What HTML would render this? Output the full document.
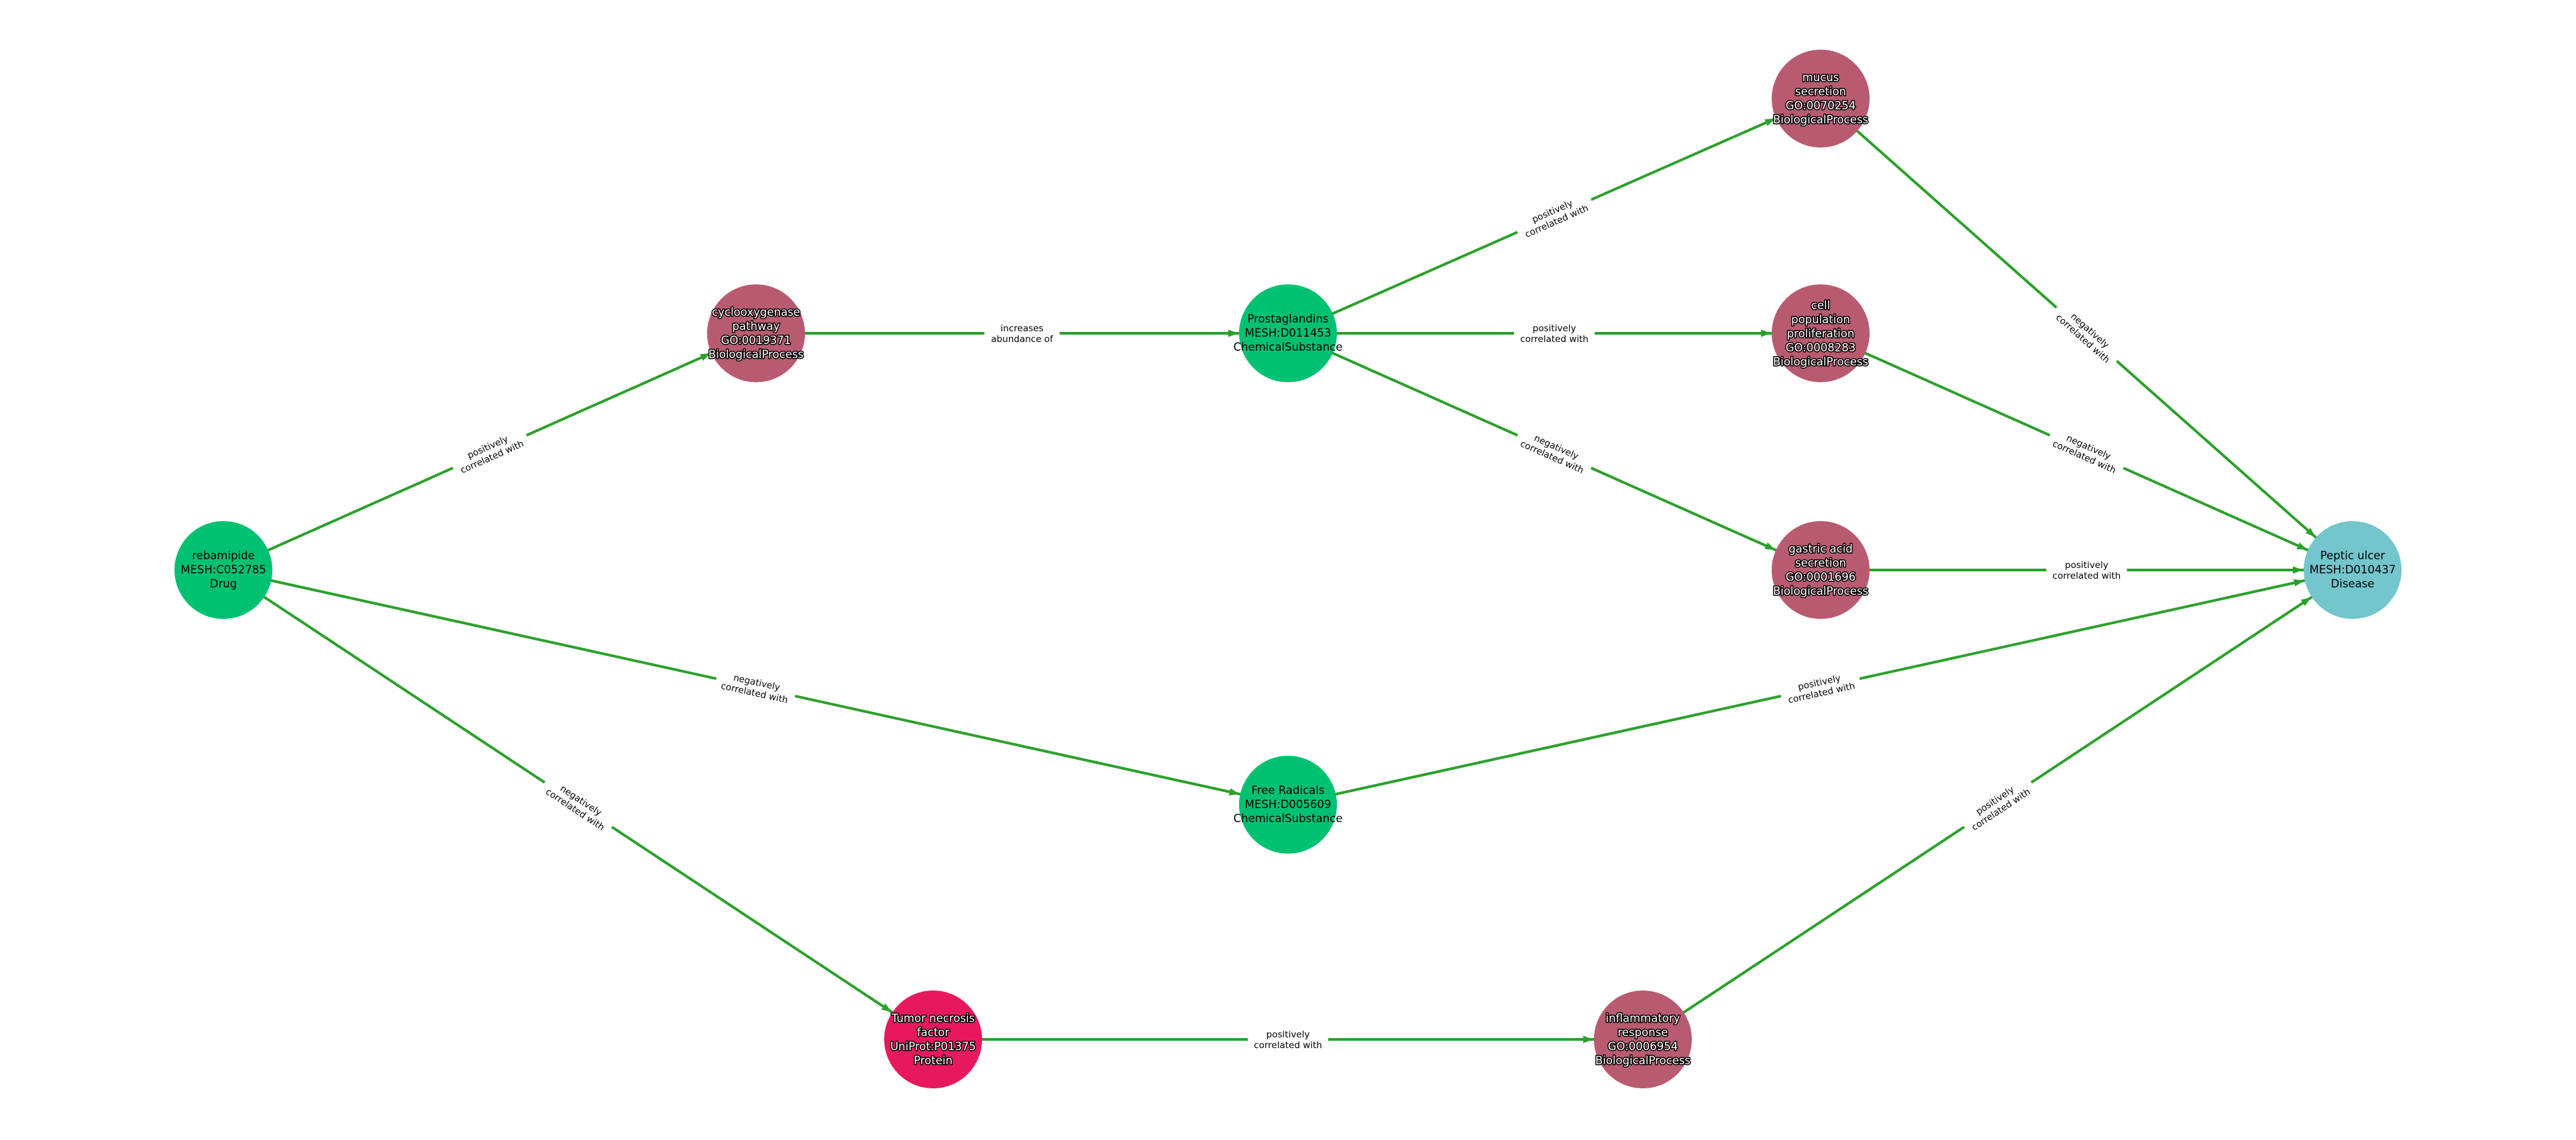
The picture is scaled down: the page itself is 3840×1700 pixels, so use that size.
<!DOCTYPE html>
<html><head><meta charset="utf-8"><style>
html,body{margin:0;padding:0;background:#fff;}
svg{display:block;}
.e{stroke:#2ca02c;stroke-width:4;fill:none;}
.lb{font-family:"DejaVu Sans","Liberation Sans",sans-serif;font-size:13.5px;fill:#000;text-anchor:middle;}
.nt{font-family:"DejaVu Sans","Liberation Sans",sans-serif;font-size:16.5px;text-anchor:middle;}
.w{fill:#fff;stroke:#000;stroke-width:3;paint-order:stroke;stroke-linejoin:round;}
.k{fill:#000;}
</style></head><body>
<svg width="3840" height="1700" viewBox="0 0 3840 1700" xmlns="http://www.w3.org/2000/svg">
<defs>
<marker id="a" markerUnits="userSpaceOnUse" markerWidth="30" markerHeight="30" refX="74" refY="0" orient="auto" overflow="visible" viewBox="-20 -10 30 20">
<path d="M-15,-5.5 L0,0 L-15,5.5 z" fill="#2ca02c"/>
</marker>
</defs>
<g class="e" marker-end="url(#a)">
<line x1="333" y1="850" x2="1127" y2="497"/>
<line x1="1127" y1="497" x2="1920" y2="497"/>
<line x1="1920" y1="497" x2="2714" y2="147"/>
<line x1="1920" y1="497" x2="2714" y2="497"/>
<line x1="1920" y1="497" x2="2714" y2="850"/>
<line x1="2714" y1="147" x2="3507" y2="850"/>
<line x1="2714" y1="497" x2="3507" y2="850"/>
<line x1="2714" y1="850" x2="3507" y2="850"/>
<line x1="333" y1="850" x2="1920" y2="1200"/>
<line x1="1920" y1="1200" x2="3507" y2="850"/>
<line x1="333" y1="850" x2="1391" y2="1550"/>
<line x1="1391" y1="1550" x2="2449" y2="1550"/>
<line x1="2449" y1="1550" x2="3507" y2="850"/>
</g>
<g>
<g transform="translate(730,673.5) rotate(-24)"><rect x="-60" y="-18" width="120" height="36" fill="#fff"/><text class="lb" y="-3">positively</text><text class="lb" y="13">correlated with</text></g>
<g transform="translate(1523.5,497)"><rect x="-56" y="-18" width="112" height="36" fill="#fff"/><text class="lb" y="-3">increases</text><text class="lb" y="13">abundance of</text></g>
<g transform="translate(2317,322) rotate(-23.8)"><rect x="-60" y="-18" width="120" height="36" fill="#fff"/><text class="lb" y="-3">positively</text><text class="lb" y="13">correlated with</text></g>
<g transform="translate(2317,497)"><rect x="-60" y="-18" width="120" height="36" fill="#fff"/><text class="lb" y="-3">positively</text><text class="lb" y="13">correlated with</text></g>
<g transform="translate(2317,673.5) rotate(24)"><rect x="-60" y="-18" width="120" height="36" fill="#fff"/><text class="lb" y="-3">negatively</text><text class="lb" y="13">correlated with</text></g>
<g transform="translate(3110.5,498.5) rotate(41.6)"><rect x="-60" y="-18" width="120" height="36" fill="#fff"/><text class="lb" y="-3">negatively</text><text class="lb" y="13">correlated with</text></g>
<g transform="translate(3110.5,673.5) rotate(24)"><rect x="-60" y="-18" width="120" height="36" fill="#fff"/><text class="lb" y="-3">negatively</text><text class="lb" y="13">correlated with</text></g>
<g transform="translate(3110.5,850)"><rect x="-60" y="-18" width="120" height="36" fill="#fff"/><text class="lb" y="-3">positively</text><text class="lb" y="13">correlated with</text></g>
<g transform="translate(1126.5,1025) rotate(12.4)"><rect x="-60" y="-18" width="120" height="36" fill="#fff"/><text class="lb" y="-3">negatively</text><text class="lb" y="13">correlated with</text></g>
<g transform="translate(2713.5,1025) rotate(-12.4)"><rect x="-60" y="-18" width="120" height="36" fill="#fff"/><text class="lb" y="-3">positively</text><text class="lb" y="13">correlated with</text></g>
<g transform="translate(862,1200) rotate(33.5)"><rect x="-60" y="-18" width="120" height="36" fill="#fff"/><text class="lb" y="-3">negatively</text><text class="lb" y="13">correlated with</text></g>
<g transform="translate(1920,1550)"><rect x="-60" y="-18" width="120" height="36" fill="#fff"/><text class="lb" y="-3">positively</text><text class="lb" y="13">correlated with</text></g>
<g transform="translate(2978,1200) rotate(-33.5)"><rect x="-60" y="-18" width="120" height="36" fill="#fff"/><text class="lb" y="-3">positively</text><text class="lb" y="13">correlated with</text></g>
</g>
<circle cx="333" cy="850" r="73" fill="#00c172"/>
<text class="nt k" x="333" y="834">rebamipide</text>
<text class="nt k" x="333" y="855">MESH:C052785</text>
<text class="nt k" x="333" y="876">Drug</text>

<circle cx="1127" cy="497" r="73" fill="#b85b70"/>
<text class="nt w" x="1127" y="471">cyclooxygenase</text>
<text class="nt w" x="1127" y="492">pathway</text>
<text class="nt w" x="1127" y="513">GO:0019371</text>
<text class="nt w" x="1127" y="534">BiologicalProcess</text>

<circle cx="1920" cy="497" r="73" fill="#00c172"/>
<text class="nt k" x="1920" y="481">Prostaglandins</text>
<text class="nt k" x="1920" y="502">MESH:D011453</text>
<text class="nt k" x="1920" y="523">ChemicalSubstance</text>

<circle cx="2714" cy="147" r="73" fill="#b85b70"/>
<text class="nt w" x="2714" y="121">mucus</text>
<text class="nt w" x="2714" y="142">secretion</text>
<text class="nt w" x="2714" y="163">GO:0070254</text>
<text class="nt w" x="2714" y="184">BiologicalProcess</text>

<circle cx="2714" cy="497" r="73" fill="#b85b70"/>
<text class="nt w" x="2714" y="461">cell</text>
<text class="nt w" x="2714" y="482">population</text>
<text class="nt w" x="2714" y="503">proliferation</text>
<text class="nt w" x="2714" y="524">GO:0008283</text>
<text class="nt w" x="2714" y="545">BiologicalProcess</text>

<circle cx="2714" cy="850" r="73" fill="#b85b70"/>
<text class="nt w" x="2714" y="824">gastric acid</text>
<text class="nt w" x="2714" y="845">secretion</text>
<text class="nt w" x="2714" y="866">GO:0001696</text>
<text class="nt w" x="2714" y="887">BiologicalProcess</text>

<circle cx="3507" cy="850" r="73" fill="#72c6cc"/>
<text class="nt k" x="3507" y="834">Peptic ulcer</text>
<text class="nt k" x="3507" y="855">MESH:D010437</text>
<text class="nt k" x="3507" y="876">Disease</text>

<circle cx="1920" cy="1200" r="73" fill="#00c172"/>
<text class="nt k" x="1920" y="1184">Free Radicals</text>
<text class="nt k" x="1920" y="1205">MESH:D005609</text>
<text class="nt k" x="1920" y="1226">ChemicalSubstance</text>

<circle cx="1391" cy="1550" r="73" fill="#e8185f"/>
<text class="nt w" x="1391" y="1524">Tumor necrosis</text>
<text class="nt w" x="1391" y="1545">factor</text>
<text class="nt w" x="1391" y="1566">UniProt:P01375</text>
<text class="nt w" x="1391" y="1587">Protein</text>

<circle cx="2449" cy="1550" r="73" fill="#b85b70"/>
<text class="nt w" x="2449" y="1524">inflammatory</text>
<text class="nt w" x="2449" y="1545">response</text>
<text class="nt w" x="2449" y="1566">GO:0006954</text>
<text class="nt w" x="2449" y="1587">BiologicalProcess</text>
</svg>
</body></html>
